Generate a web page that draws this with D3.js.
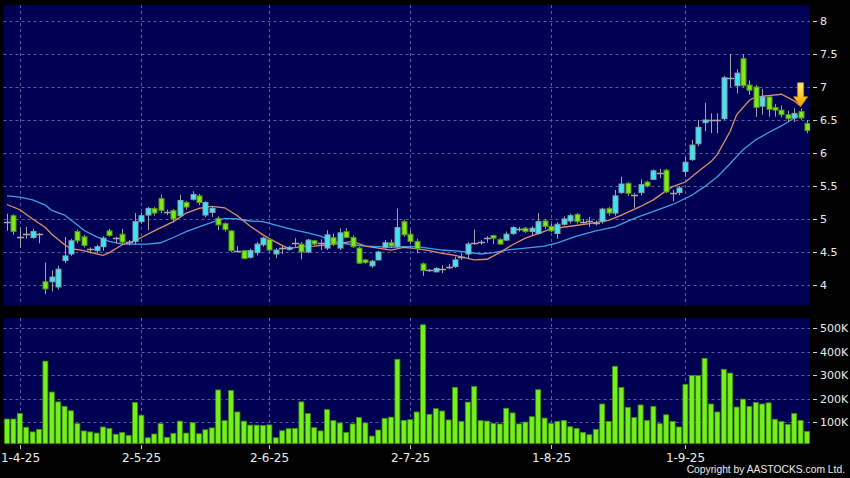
<!DOCTYPE html>
<html><head><meta charset="utf-8">
<script src="https://cdn.jsdelivr.net/npm/d3@7"></script>
<style>
html,body{margin:0;padding:0;background:#000;}
svg{display:block;}
text{font-family:"DejaVu Sans",sans-serif;}
</style></head><body>
<svg id="chart" width="850" height="478"></svg>
<script>
// ---------- data ----------
const openP = [4.96,5.05,4.72,4.77,4.72,4.77,4.05,4.05,3.97,4.37,
 4.47,4.81,4.73,4.54,4.52,4.58,4.82,4.71,4.77,4.65,
 4.66,4.96,5.06,5.16,5.31,5.11,5.13,5.05,5.25,5.30,
 5.35,5.06,5.10,5.01,4.93,4.82,4.52,4.52,4.42,4.49,
 4.61,4.69,4.47,4.56,4.54,4.63,4.62,4.50,4.67,4.63,
 4.56,4.72,4.56,4.81,4.72,4.56,4.38,4.29,4.38,4.57,
 4.64,4.58,4.96,4.77,4.66,4.32,4.22,4.20,4.24,4.28,
 4.28,4.42,4.47,4.63,4.65,4.71,4.75,4.69,4.68,4.78,
 4.85,4.86,4.81,4.78,4.97,4.89,4.78,4.92,4.97,5.07,
 4.96,4.97,4.94,4.96,5.16,5.09,5.40,5.54,5.36,5.40,
 5.56,5.60,5.69,5.74,5.40,5.40,5.72,5.90,6.14,6.46,
 6.50,6.50,6.52,7.14,7.02,7.43,7.03,7.00,6.71,6.85,
 6.69,6.65,6.58,6.53,6.63,6.45];
const closeP = [4.96,4.81,4.72,4.77,4.81,4.77,3.94,4.12,4.24,4.44,
 4.67,4.67,4.60,4.54,4.58,4.71,4.75,4.71,4.65,4.65,
 4.96,5.05,5.16,5.09,5.13,5.11,5.00,5.28,5.18,5.37,
 5.25,5.25,5.16,4.91,4.84,4.52,4.52,4.40,4.52,4.62,
 4.71,4.53,4.53,4.56,4.57,4.63,4.50,4.68,4.62,4.63,
 4.76,4.62,4.79,4.72,4.58,4.33,4.34,4.36,4.50,4.64,
 4.59,4.87,4.76,4.66,4.55,4.22,4.22,4.25,4.24,4.28,
 4.38,4.42,4.62,4.63,4.65,4.71,4.71,4.62,4.77,4.87,
 4.85,4.81,4.86,4.96,4.89,4.82,4.92,5.00,5.05,4.96,
 4.96,4.97,4.94,5.15,5.09,5.35,5.53,5.39,5.36,5.52,
 5.50,5.73,5.69,5.41,5.40,5.47,5.86,6.12,6.39,6.50,
 6.50,6.50,7.14,7.14,7.21,7.02,6.95,6.69,6.85,6.66,
 6.65,6.58,6.52,6.60,6.53,6.34];
const highP = [5.08,5.07,4.87,4.88,4.85,4.79,4.34,4.22,4.29,4.73,
 4.70,4.84,4.76,4.57,4.61,4.74,4.85,4.73,4.85,4.68,
 5.09,5.10,5.18,5.18,5.37,5.14,5.15,5.37,5.27,5.42,
 5.38,5.27,5.19,5.04,4.95,4.83,4.59,4.53,4.55,4.65,
 4.73,4.71,4.56,4.59,4.59,4.71,4.65,4.70,4.68,4.69,
 4.83,4.78,4.86,4.86,4.75,4.58,4.39,4.38,4.52,4.68,
 4.69,5.16,4.99,4.83,4.70,4.34,4.24,4.27,4.30,4.32,
 4.43,4.48,4.65,4.84,4.68,4.74,4.76,4.71,4.81,4.89,
 4.88,4.88,4.89,5.09,5.00,4.93,4.95,5.04,5.08,5.09,
 5.00,5.03,4.98,5.17,5.18,5.44,5.64,5.56,5.39,5.60,
 5.58,5.75,5.76,5.76,5.44,5.50,5.94,6.20,6.50,6.76,
 6.60,6.60,7.17,7.50,7.27,7.49,7.10,7.03,6.97,6.88,
 6.74,6.72,6.64,6.68,6.67,6.50];
const lowP = [4.82,4.76,4.56,4.70,4.70,4.63,3.86,3.90,3.93,4.33,
 4.44,4.63,4.57,4.48,4.48,4.52,4.73,4.63,4.62,4.60,
 4.61,4.93,4.83,5.05,5.09,5.06,4.95,5.02,5.14,5.28,
 5.21,5.03,5.03,4.83,4.81,4.50,4.50,4.39,4.40,4.45,
 4.58,4.51,4.41,4.47,4.52,4.58,4.39,4.48,4.60,4.53,
 4.53,4.59,4.53,4.71,4.56,4.32,4.32,4.26,4.37,4.55,
 4.56,4.56,4.73,4.62,4.48,4.14,4.20,4.19,4.18,4.24,
 4.26,4.38,4.40,4.61,4.61,4.64,4.62,4.61,4.67,4.76,
 4.81,4.79,4.75,4.76,4.85,4.80,4.70,4.90,4.93,4.93,
 4.93,4.88,4.90,4.93,5.05,5.05,5.38,5.35,5.17,5.36,
 5.48,5.59,5.62,5.39,5.27,5.36,5.64,5.88,6.10,6.33,
 6.30,6.30,6.50,7.00,6.90,7.00,6.88,6.55,6.58,6.55,
 6.55,6.54,6.47,6.47,6.50,6.30];
const volumeK = [113,113,137,78,58,69,360,228,186,167,
 148,93,62,58,53,79,73,48,56,43,
 184,129,33,49,93,35,52,104,53,97,
 50,67,75,237,106,235,143,104,87,87,
 85,88,33,63,72,73,186,136,76,62,
 153,106,96,56,92,119,96,40,66,116,
 121,368,107,110,143,515,133,157,147,109,
 248,103,185,252,106,104,94,92,159,139,
 92,100,123,238,117,94,103,107,80,73,
 56,46,69,177,102,338,248,163,119,173,
 107,167,93,131,103,79,261,299,298,372,
 177,143,325,309,164,198,167,184,177,182,
 112,102,90,137,107,60];
// moving averages read at sample bar positions
const maShortIdx = [0,2,4,6,7,9,10,12,14,15,16,18,20,21,23,26,28,30,32,34,36,38,40,42,44,46,48,50,52,54,56,58,60,62,64,66,68,70,73,75,77,79,81,83,85,88,91,94,96,99,101,103,104,106,108,110,111,113,114,116,117,119,121,123,124];
const maShortVal = [5.22,5.14,5.00,4.87,4.77,4.61,4.55,4.52,4.47,4.45,4.49,4.61,4.67,4.72,4.82,4.96,5.09,5.16,5.19,5.17,5.05,4.89,4.76,4.65,4.55,4.58,4.59,4.61,4.63,4.66,4.59,4.56,4.53,4.57,4.55,4.52,4.48,4.45,4.38,4.39,4.49,4.61,4.71,4.78,4.85,4.89,4.93,4.98,5.06,5.19,5.29,5.43,5.49,5.56,5.72,5.87,5.98,6.33,6.58,6.80,6.85,6.87,6.89,6.79,6.71];
const maLongIdx = [0,2,4,6,7,9,11,12,14,16,18,20,22,24,26,28,30,32,34,36,38,40,43,45,47,49,50,52,54,56,58,60,62,64,68,71,74,76,78,81,84,86,89,92,95,98,102,104,107,109,111,113,115,117,119,121,123,124];
const maLongVal = [5.35,5.33,5.29,5.21,5.13,5.06,4.91,4.83,4.73,4.66,4.62,4.62,4.62,4.64,4.72,4.81,4.88,4.95,5.01,5.00,4.97,4.96,4.88,4.83,4.79,4.74,4.70,4.64,4.61,4.59,4.58,4.57,4.58,4.58,4.53,4.51,4.47,4.49,4.53,4.56,4.59,4.64,4.74,4.82,4.88,5.01,5.15,5.22,5.36,5.49,5.64,5.84,6.05,6.20,6.31,6.41,6.53,6.58];
const priceTicks = [4,4.5,5,5.5,6,6.5,7,7.5,8];
const volTicks = [100,200,300,400,500];
const dateTickIdx = [2,21,41,63,85,106];
const dateTickLabels = ["1-4-25","2-5-25","2-6-25","2-7-25","1-8-25","1-9-25"];
const signalIdx = 124;
const copyright = "Copyright by AASTOCKS.com Ltd.";

// ---------- drawing ----------
const svg = d3.select("#chart");
svg.append("rect").attr("width",850).attr("height",478).attr("fill","#000");

const n = openP.length;
const x = d3.scaleBand().domain(d3.range(n)).range([3.8, 810.2]).padding(0);
const cx = i => x(i) + x.bandwidth()/2;
const y = d3.scaleLinear().domain([4,8]).range([285,21]);
const yv = d3.scaleLinear().domain([0,500]).range([445.5,328.3]);

const P = {x0:3.5, x1:810, y0:5, y1:305.5};
const V = {x0:3.5, x1:810, y0:318, y1:443.5};
const panelFill = "#000052";
const gridCol = "#5b5ba6";

svg.append("rect").attr("x",P.x0).attr("y",P.y0).attr("width",P.x1-P.x0).attr("height",P.y1-P.y0).attr("fill",panelFill);
svg.append("rect").attr("x",V.x0).attr("y",V.y0).attr("width",V.x1-V.x0).attr("height",V.y1-V.y0).attr("fill",panelFill);

const grid = svg.append("g").attr("stroke",gridCol).attr("stroke-width",1).attr("stroke-dasharray","3,3").attr("fill","none");
priceTicks.forEach(t=>{
  const yy = Math.round(y(t))+0.5;
  grid.append("line").attr("x1",P.x0).attr("x2",P.x1).attr("y1",yy).attr("y2",yy);
});
volTicks.forEach(t=>{
  const yy = Math.round(yv(t))+0.5;
  grid.append("line").attr("x1",V.x0).attr("x2",V.x1).attr("y1",yy).attr("y2",yy);
});
dateTickIdx.forEach(i=>{
  const xx = Math.round(cx(i))+0.5;
  grid.append("line").attr("x1",xx).attr("x2",xx).attr("y1",P.y0).attr("y2",P.y1);
  grid.append("line").attr("x1",xx).attr("x2",xx).attr("y1",V.y0).attr("y2",V.y1);
});

// clip
const defs = svg.append("defs");
defs.append("clipPath").attr("id","clipP").append("rect").attr("x",P.x0).attr("y",P.y0).attr("width",P.x1-P.x0).attr("height",P.y1-P.y0);
const grad = defs.append("linearGradient").attr("id","arrowGrad").attr("x1",0).attr("x2",0).attr("y1",0).attr("y2",1);
grad.append("stop").attr("offset","0%").attr("stop-color","#fff07a");
grad.append("stop").attr("offset","55%").attr("stop-color","#ffc82a");
grad.append("stop").attr("offset","100%").attr("stop-color","#f29a00");

const plot = svg.append("g").attr("clip-path","url(#clipP)");

// moving averages
const lineS = d3.line().x(d=>cx(d[0])).y(d=>y(d[1]));
plot.append("path").datum(maLongIdx.map((d,k)=>[d,maLongVal[k]]))
  .attr("d",lineS).attr("fill","none").attr("stroke","#3f9fe6").attr("stroke-width",1.3);
plot.append("path").datum(maShortIdx.map((d,k)=>[d,maShortVal[k]]))
  .attr("d",lineS).attr("fill","none").attr("stroke","#df8f6c").attr("stroke-width",1.3);

// candles
const bw = 5;
const candles = plot.selectAll("g.c").data(d3.range(n)).join("g").attr("class","c");
candles.append("line")
  .attr("x1",i=>Math.round(cx(i))+0.5).attr("x2",i=>Math.round(cx(i))+0.5)
  .attr("y1",i=>y(highP[i])).attr("y2",i=>y(lowP[i]))
  .attr("stroke","#a4a4a4").attr("stroke-width",1);
candles.each(function(i){
  const g = d3.select(this);
  const o = openP[i], c = closeP[i];
  const xc = Math.round(cx(i));
  if (Math.abs(o-c) < 0.005) {
    g.append("line").attr("x1",xc-3).attr("x2",xc+4).attr("y1",Math.round(y(o))+0.5).attr("y2",Math.round(y(o))+0.5)
      .attr("stroke","#a8a8a8").attr("stroke-width",1.5);
  } else {
    const up = c > o;
    const top = y(Math.max(o,c)), bot = y(Math.min(o,c));
    g.append("rect").attr("x",xc-2.5+0.5).attr("y",top).attr("width",bw).attr("height",Math.max(1.5,bot-top))
      .attr("fill", up ? "#3ee4f0" : "#82e61c")
      .attr("stroke", up ? "#8aa4b0" : "#4f9a12").attr("stroke-width",1);
  }
});

// signal arrow
const ax = cx(signalIdx), tip = y(highP[signalIdx]) - 2;
plot.append("path")
  .attr("d",`M${ax-3},${tip-24} L${ax+3},${tip-24} L${ax+3},${tip-10} L${ax+7},${tip-10} L${ax},${tip} L${ax-7},${tip-10} L${ax-3},${tip-10} Z`)
  .attr("fill","url(#arrowGrad)").attr("stroke","#c98a00").attr("stroke-width",0.8);

// volume
svg.append("g").selectAll("rect").data(d3.range(n)).join("rect")
  .attr("x",i=>x(i)+0.7).attr("width",x.bandwidth()-1.4)
  .attr("y",i=>yv(volumeK[i])).attr("height",i=>Math.max(0,V.y1-yv(volumeK[i])))
  .attr("fill","#74f01a").attr("stroke","#3f8f0c").attr("stroke-width",0.8);

// right axes
const ax1 = svg.append("g");
priceTicks.forEach(t=>{
  const yy = Math.round(y(t))+0.5;
  ax1.append("line").attr("x1",813).attr("x2",817).attr("y1",yy).attr("y2",yy).attr("stroke","#cfcfcf");
  ax1.append("text").attr("x",820).attr("y",yy).attr("dy","0.36em").attr("fill","#ececec").attr("font-size",11).text(d3.format("~g")(t));
});
volTicks.forEach(t=>{
  const yy = Math.round(yv(t))+0.5;
  ax1.append("line").attr("x1",813).attr("x2",817).attr("y1",yy).attr("y2",yy).attr("stroke","#cfcfcf");
  ax1.append("text").attr("x",820).attr("y",yy).attr("dy","0.36em").attr("fill","#ececec").attr("font-size",11).text(t+"K");
});
// date axis
dateTickIdx.forEach((i,k)=>{
  const xx = Math.round(cx(i))+0.5;
  ax1.append("line").attr("x1",xx).attr("x2",xx).attr("y1",445).attr("y2",449).attr("stroke","#cfcfcf");
  ax1.append("text").attr("x",xx).attr("y",462).attr("text-anchor","middle").attr("fill","#ececec").attr("font-size",12).text(dateTickLabels[k]);
});
svg.append("text").attr("x",845).attr("y",472.5).attr("text-anchor","end").attr("fill","#ececec")
  .style("font-family","'Liberation Sans', Arial, sans-serif").attr("font-size",10.3).text(copyright);
</script>
</body></html>
